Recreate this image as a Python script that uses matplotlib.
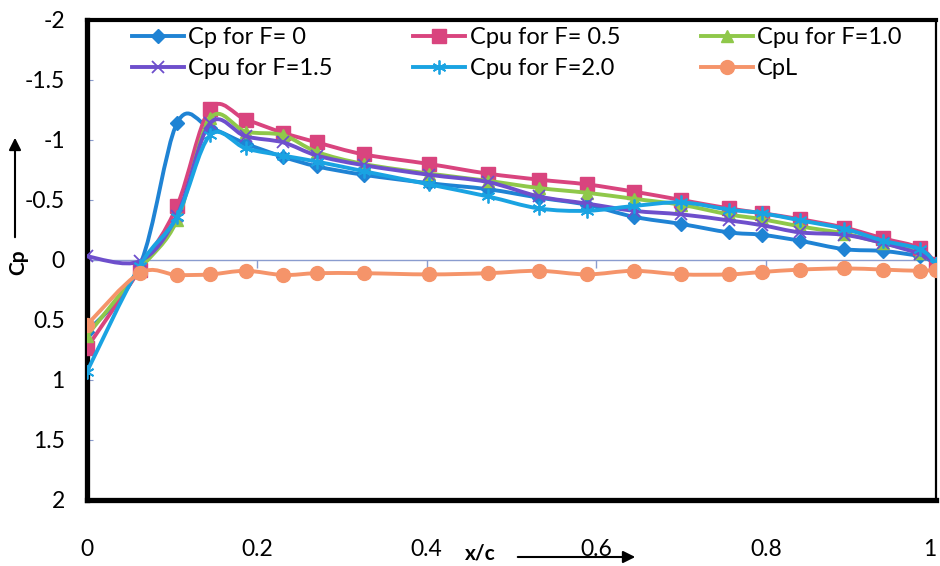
import matplotlib
matplotlib.use("Agg")
import matplotlib.pyplot as plt
from matplotlib.path import Path
from matplotlib.patches import PathPatch, FancyArrowPatch
from matplotlib.lines import Line2D

plt.rcParams['font.family'] = ['Lato', 'DejaVu Sans']

# x/c stations (same for every series)
x_c = [0, 0.062, 0.106, 0.145, 0.187, 0.231, 0.271, 0.326, 0.403, 0.472, 0.532,
       0.589, 0.644, 0.700, 0.756, 0.795, 0.840, 0.892, 0.938, 0.981, 1.0]

cp_f0 = [0.60, 0.05, -1.14, -1.10, -0.97, -0.86, -0.78, -0.71, -0.64, -0.59, -0.52,
         -0.46, -0.36, -0.30, -0.23, -0.21, -0.16, -0.09, -0.075, -0.03, 0.03]
cpu_f05 = [0.73, 0.08, -0.45, -1.26, -1.17, -1.06, -0.98, -0.88, -0.80, -0.72, -0.67,
           -0.63, -0.57, -0.50, -0.43, -0.39, -0.34, -0.27, -0.18, -0.10, 0.03]
cpu_f10 = [0.63, 0.08, -0.33, -1.18, -1.07, -1.04, -0.90, -0.80, -0.72, -0.66, -0.60,
           -0.56, -0.51, -0.46, -0.38, -0.34, -0.28, -0.22, -0.14, -0.06, 0.03]
cpu_f15 = [-0.03, 0.01, -0.37, -1.14, -1.03, -0.98, -0.87, -0.79, -0.71, -0.65, -0.53,
           -0.47, -0.41, -0.38, -0.33, -0.29, -0.23, -0.21, -0.14, -0.05, 0.03]
cpu_f20 = [0.93, 0.05, -0.36, -1.04, -0.93, -0.87, -0.82, -0.74, -0.63, -0.53, -0.43,
           -0.41, -0.45, -0.48, -0.42, -0.39, -0.33, -0.26, -0.16, -0.09, 0.03]
cp_lower = [0.54, 0.11, 0.125, 0.12, 0.09, 0.125, 0.11, 0.11, 0.12, 0.11, 0.09,
            0.12, 0.09, 0.12, 0.12, 0.10, 0.08, 0.07, 0.08, 0.09, 0.08]

x_ticks = [0, 0.2, 0.4, 0.6, 0.8, 1.0]
x_tick_labels = ['0', '0.2', '0.4', '0.6', '0.8', '1']
y_ticks = [-2, -1.5, -1, -0.5, 0, 0.5, 1, 1.5, 2]
y_tick_labels = ['-2', '-1.5', '-1', '-0.5', '0', '0.5', '1', '1.5', '2']


def smooth_path(xs, ys):
    # Excel-style smoothed line: cubic bezier through every point
    pts = list(zip(xs, ys))
    verts = [pts[0]]
    codes = [Path.MOVETO]
    n = len(pts)
    for i in range(n - 1):
        p0 = pts[max(i - 1, 0)]
        p1 = pts[i]
        p2 = pts[i + 1]
        p3 = pts[min(i + 2, n - 1)]
        c1 = (p1[0] + (p2[0] - p0[0]) / 6, p1[1] + (p2[1] - p0[1]) / 6)
        c2 = (p2[0] - (p3[0] - p1[0]) / 6, p2[1] - (p3[1] - p1[1]) / 6)
        verts += [c1, c2, p2]
        codes += [Path.CURVE4] * 3
    return Path(verts, codes)


fig = plt.figure(figsize=(9.4, 5.66), dpi=100)
ax = fig.add_axes([87 / 940, 1 - 500 / 566, 849 / 940, 480 / 566])

# zero line with small ticks (Excel axis crossing at 0)
ax.axhline(0, color='#8a9ccf', lw=1.0, zorder=1)
ax.vlines(x_ticks[1:-1], 0, 0.07, color='#8a9ccf', lw=1.0, zorder=1)

lw = 2.8
series = [
    ('Cp for F= 0', cp_f0, '#1f83d4', dict(marker='D', ms=7)),
    ('Cpu for F= 0.5', cpu_f05, '#d9447e', dict(marker='s', ms=10)),
    ('Cpu for F=1.0', cpu_f10, '#8fc84a', dict(marker='^', ms=9)),
    ('Cpu for F=1.5', cpu_f15, '#6e4fcc', dict(marker='x', ms=9, mew=1.3)),
    ('Cpu for F=2.0', cpu_f20, '#1aa3e2', dict(marker=(6, 2, 0), ms=10, mew=1.3)),
    ('CpL', cp_lower, '#f5946a', dict(marker='o', ms=10)),
]

handles = {}
for k, (name, vals, col, mk) in enumerate(series):
    z = 3 + k * 0.1
    ax.add_patch(PathPatch(smooth_path(x_c, vals), facecolor='none', edgecolor=col,
                           lw=lw, zorder=z, capstyle='round', joinstyle='round'))
    ax.plot(x_c, vals, ls='none', color=col, zorder=z + 0.05, **mk)
    handles[name] = Line2D([], [], color=col, lw=lw, **mk)

ax.set_xlim(0, 1)
ax.set_ylim(2, -2)

ax.set_xticks(x_ticks)
ax.set_xticklabels(x_tick_labels)
ax.set_yticks(y_ticks)
ax.set_yticklabels(y_tick_labels)
ax.tick_params(axis='x', length=0, pad=28, labelsize=16.5)
ax.tick_params(axis='y', length=4, direction='in', color='#8a9ccf', pad=16, labelsize=16.5)
# last x label sits at the right edge; keep it inside the picture
ax.get_xticklabels()[-1].set_ha('right')

for side, w in [('left', 3.8), ('bottom', 3.8), ('top', 3.0), ('right', 1.6)]:
    ax.spines[side].set_linewidth(w)
    ax.spines[side].set_color('black')

# legend: 3 columns, filled row-wise like the original
order = ['Cp for F= 0', 'Cpu for F=1.5', 'Cpu for F= 0.5', 'Cpu for F=2.0', 'Cpu for F=1.0', 'CpL']
ax.legend(handles=[handles[o] for o in order], labels=order, ncol=3,
          loc='upper left', bbox_to_anchor=(0.036, 1.014), frameon=False,
          fontsize=17, handlelength=2.2, columnspacing=3.4, handletextpad=0.2,
          labelspacing=0.42, borderpad=0.1)

# axis titles with arrows
fig.text(18 / 940, 1 - 262 / 566, 'Cp', rotation=90, ha='center', va='center',
         fontsize=15, fontweight='bold')
fig.add_artist(FancyArrowPatch(
    (15 / 940, 1 - 240 / 566), (15 / 940, 1 - 135 / 566), transform=fig.transFigure,
    arrowstyle='-|>', mutation_scale=18, lw=1.5, color='black'))
fig.text(480 / 940, 1 - 553 / 566, 'x/c', ha='center', va='center',
         fontsize=15, fontweight='bold')
fig.add_artist(FancyArrowPatch(
    (515 / 940, 1 - 557 / 566), (638 / 940, 1 - 557 / 566), transform=fig.transFigure,
    arrowstyle='-|>', mutation_scale=18, lw=1.5, color='black'))

fig.savefig('out.png', dpi=100, facecolor='white')
